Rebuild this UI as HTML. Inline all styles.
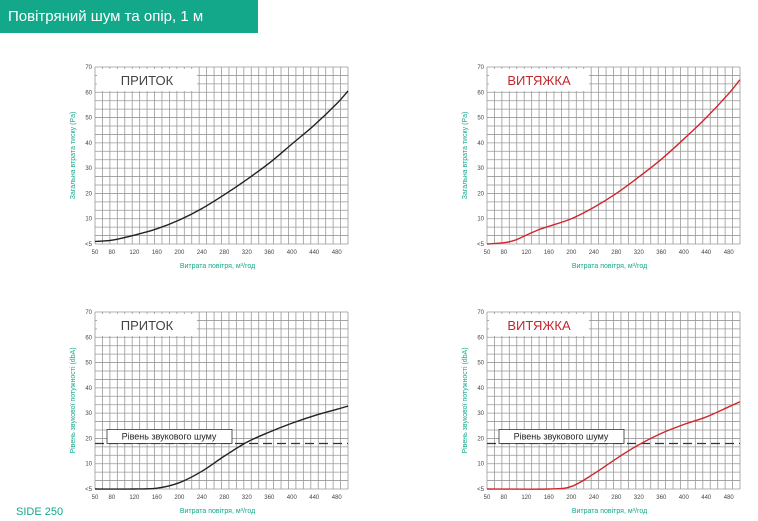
<!DOCTYPE html>
<html><head><meta charset="utf-8"><style>
body{margin:0;width:758px;height:521px;background:#fff;overflow:hidden;font-family:"Liberation Sans",sans-serif}
#hdr{position:absolute;left:0;top:0;width:258px;height:33px;background:#14a88b;color:#fff;font-size:15px;line-height:33px;padding-left:8px;box-sizing:border-box}
#side{position:absolute;left:16px;top:506px;color:#14a88b;font-size:11px}
svg{position:absolute;left:0;top:0}
</style></head><body>
<div id="hdr">Повітряний шум та опір, 1 м</div>
<div id="side">SIDE 250</div>
<svg id="s" width="758" height="521"></svg>
<script>
const xTicks=[50,80,120,160,200,240,280,320,360,400,440,480];
const yTicks=[0,10,20,30,40,50,60,70];
const yTickLabels=['<5','10','20','30','40','50','60','70'];
const tlX=[50,80,120,160,200,240,280,320,360,400,440,480,500];
const tlY=[1,1.5,3.5,6,9.5,14,19.5,25.5,32,39.5,47,55.5,60.5];
const trX=[50,80,100,120,140,160,200,240,280,320,360,400,440,480,500];
const trY=[0,0.5,1.5,3.5,5.5,7,10,14.5,20,26.5,33.5,41.5,50,59.5,65];
const blX=[50,120,160,200,240,280,320,360,400,440,480,500];
const blY=[0,0,0.3,2.5,7,13,18.5,22.5,26,29,31.5,32.8];
const brX=[50,160,200,240,280,320,360,400,440,480,500];
const brY=[0,0,1,6,12,17.5,22,25.5,28.5,32.5,34.5];
const noiseLevel=18;
const NS='http://www.w3.org/2000/svg';
const s=document.getElementById('s');
function el(t,a,p){const e=document.createElementNS(NS,t);for(const k in a)e.setAttribute(k,a[k]);(p||s).appendChild(e);return e;}
function chart(ox,oy,name,xs,ys,color,title,ytitle,noise){
  const L=ox,R=ox+253,T=oy,B=oy+177;
  const X=v=>L+(v-50)/450*(R-L), Y=v=>B-v/70*(B-T);
  const g=el('g',{});
  
  
  for(let i=0;i<=34;i++){const x=L+i*(R-L)/34;el('line',{x1:x,x2:x,y1:T,y2:B,stroke:'#999','stroke-width':0.8},g);}
  for(let i=0;i<=21;i++){const y=T+i*(B-T)/21;el('line',{x1:L,x2:R,y1:y,y2:y,stroke:'#999','stroke-width':0.8},g);}
  const tb=el('rect',{x:L+2,y:T+2,width:100,height:22,fill:'#fff'},g);
  
  
  const tt=el('text',{x:L+52,y:T+18,'text-anchor':'middle','font-size':13,fill:color==='#222'?'#444':'#c0282e'},g);tt.textContent=title;
  
  
  yTicks.forEach((v,i)=>{const t=el('text',{x:L-3,y:Y(v)+2,'text-anchor':'end','font-size':6,fill:'#444'},g);t.textContent=yTickLabels[i];
    });
  xTicks.forEach(v=>{const t=el('text',{x:X(v),y:B+10,'text-anchor':'middle','font-size':6,fill:'#444'},g);t.textContent=v;
    });
  const xt=el('text',{x:(L+R)/2-4,y:B+24,'text-anchor':'middle','font-size':7,fill:'#14a88b'},g);xt.textContent='Витрата повітря, м³/год';
  
  const yt=el('text',{x:0,y:0,'text-anchor':'middle','font-size':7,fill:'#14a88b',transform:`translate(${L-20},${(T+B)/2}) rotate(-90)`},g);yt.textContent=ytitle;
  
  if(noise){
    const dl=el('line',{x1:L,x2:R,y1:Y(noiseLevel),y2:Y(noiseLevel),stroke:'#1d3c4a','stroke-width':1.2,'stroke-dasharray':'9,5'},g);
    
    const nb=el('rect',{x:L+12,y:Y(noiseLevel)-14,width:125,height:14,fill:'#fff',stroke:'#333','stroke-width':0.8},g);
    
    const nt=el('text',{x:L+74,y:Y(noiseLevel)-4,'text-anchor':'middle','font-size':9,fill:'#222'},g);nt.textContent='Рівень звукового шуму';
    
  }
  const P=xs.map((x,i)=>[X(x),Y(ys[i])]);
  let d='M'+P[0][0]+','+P[0][1];
  for(let i=0;i<P.length-1;i++){const p0=P[Math.max(i-1,0)],p1=P[i],p2=P[i+1],p3=P[Math.min(i+2,P.length-1)];
    d+=` C${p1[0]+(p2[0]-p0[0])/6},${p1[1]+(p2[1]-p0[1])/6} ${p2[0]-(p3[0]-p1[0])/6},${p2[1]-(p3[1]-p1[1])/6} ${p2[0]},${p2[1]}`;}
  const c=el('path',{d:d,fill:'none',stroke:color,'stroke-width':1.4},g);
  
}
chart(95,67,'pressure-chart-supply',tlX,tlY,'#222','ПРИТОК','Загальна втрата тиску (Pa)',false);
chart(487,67,'pressure-chart-exhaust',trX,trY,'#d0262d','ВИТЯЖКА','Загальна втрата тиску (Pa)',false);
chart(95,312,'noise-chart-supply',blX,blY,'#222','ПРИТОК','Рівень звукової потужності (dbA)',true);
chart(487,312,'noise-chart-exhaust',brX,brY,'#d0262d','ВИТЯЖКА','Рівень звукової потужності (dbA)',true);
</script>
</body></html>
